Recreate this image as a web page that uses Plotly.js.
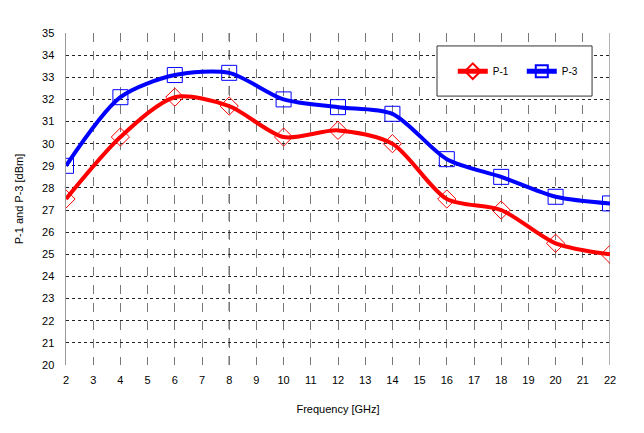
<!DOCTYPE html>
<html><head><meta charset="utf-8">
<script src="https://cdn.plot.ly/plotly-3.0.1.min.js"></script>
<style>html,body{margin:0;padding:0;background:#fff}#chart{width:644px;height:433px}</style>
</head><body><div id="chart"></div>
<script>
const freq = [2, 4, 6, 8, 10, 12, 14, 16, 18, 20, 22];
const p1 = [27.5, 30.3, 32.1, 31.7, 30.3, 30.6, 30.0, 27.5, 27.0, 25.5, 25.0];
const p3 = [29.0, 32.1, 33.1, 33.2, 32.0, 31.65, 31.35, 29.3, 28.5, 27.6, 27.3];
const xTicks = [2,3,4,5,6,7,8,9,10,11,12,13,14,15,16,17,18,19,20,21,22];
const yTicks = [20,21,22,23,24,25,26,27,28,29,30,31,32,33,34,35];

const traces = [
  {x: freq, y: p1, name: 'P-1', mode: 'lines+markers',
   line: {color: '#ff0000', width: 4, shape: 'spline', smoothing: 0.8},
   marker: {symbol: 'diamond-open', size: 14, color: '#ff0000', line: {width: 1}}},
  {x: freq, y: p3, name: 'P-3', mode: 'lines+markers',
   line: {color: '#0000ff', width: 4, shape: 'spline', smoothing: 0.8},
   marker: {symbol: 'square-open', size: 15, color: '#0000ff', line: {width: 1}}}
];

const layout = {
  width: 644, height: 433,
  margin: {l: 66, r: 34, t: 33, b: 68, autoexpand: false},
  paper_bgcolor: '#fff', plot_bgcolor: '#fff',
  font: {family: 'Arial, Liberation Sans, sans-serif', size: 11, color: '#000'},
  showlegend: true,
  legend: {orientation: 'h', x: 0.711, y: 0.885, xanchor: 'left', yanchor: 'middle',
    borderwidth: 0, bgcolor: 'rgba(0,0,0,0)', itemsizing: 'constant',
    font: {size: 10, color: '#000'}, entrywidth: 24, itemwidth: 30, tracegroupgap: 0},
  xaxis: {range: [2, 22], tickvals: xTicks, ticktext: xTicks.map(String),
    showgrid: true, gridcolor: '#777', griddash: 'dash', gridwidth: 1,
    zeroline: false, showline: false, ticks: '', ticklabelstandoff: 7,
    tickfont: {size: 11},
    title: {text: 'Frequency [GHz]', font: {size: 11}, standoff: 20}},
  yaxis: {range: [20, 35], tickvals: yTicks, ticktext: yTicks.map(String),
    showgrid: true, gridcolor: '#222', griddash: 'dot', gridwidth: 1,
    zeroline: false, showline: true, linecolor: '#999', linewidth: 1.5,
    ticks: '', ticklabelstandoff: 8, tickfont: {size: 11},
    title: {text: 'P-1 and P-3 [dBm]', font: {size: 11}, standoff: 16}},
  shapes: [
    {type: 'line', xref: 'x', yref: 'y', x0: 8, x1: 8, y0: 20, y1: 35,
     line: {color: '#444', width: 1.2, dash: 'dash'}, layer: 'below'},
    {type: 'line', xref: 'x', yref: 'y', x0: 22, x1: 22, y0: 20, y1: 35,
     line: {color: '#999', width: 1.5}, layer: 'below'},
    {type: 'rect', xref: 'paper', yref: 'paper', x0: 0.682, x1: 0.967, y0: 0.810, y1: 0.961,
     fillcolor: '#fff', line: {color: '#333', width: 1}, layer: 'above'}
  ]
};
Plotly.newPlot('chart', traces, layout, {displayModeBar: false, staticPlot: true});
</script></body></html>
